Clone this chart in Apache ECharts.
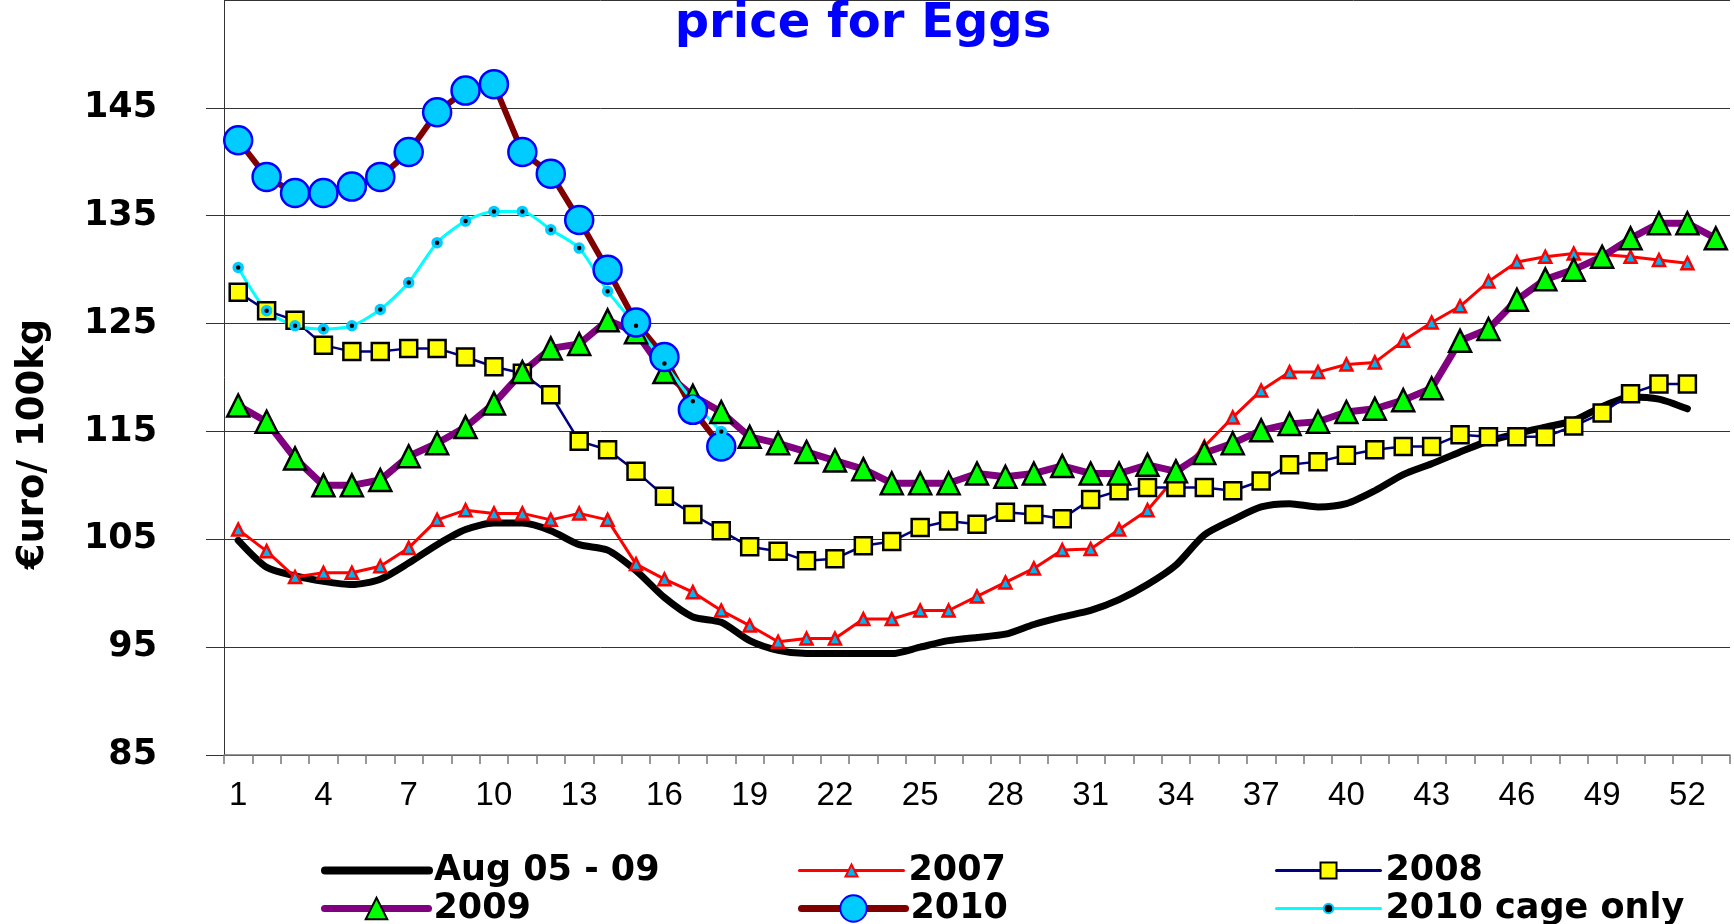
<!DOCTYPE html>
<html>
<head>
<meta charset="utf-8">
<title>price for Eggs</title>
<script src="https://cdn.jsdelivr.net/npm/echarts@6/dist/echarts.min.js"></script>
<style>
  html, body { margin: 0; padding: 0; background: #ffffff; }
  #main { width: 1734px; height: 924px; }
</style>
</head>
<body>
<div id="main"></div>
<script>
// weeks 1..53
var weeks = []
for (var i = 1; i <= 53; i++) weeks.push(String(i))

var yTicks = [85, 95, 105, 115, 125, 135, 145]

// average Aug 05 - 09
var avg0509 = [104.9, 102.4, 101.6, 101.1, 100.8, 101.3, 102.8, 104.5, 105.9, 106.5,
  106.5, 105.8, 104.5, 104.0, 102.1, 99.6, 97.8, 97.3, 95.6, 94.7,
  94.4, 94.4, 94.4, 94.4, 95.0, 95.6, 95.9, 96.2, 97.1, 97.8,
  98.4, 99.4, 100.8, 102.6, 105.4, 106.8, 108.0, 108.3, 108.0, 108.3,
  109.5, 111.0, 112.0, 113.1, 114.1, 114.8, 115.4, 116.0, 117.3, 118.2, 118.0, 117.1]

var y2007 = [105.9, 103.9, 101.5, 101.9, 101.9, 102.5, 104.2, 106.8, 107.7, 107.4,
  107.4, 106.8, 107.4, 106.8, 102.7, 101.3, 100.1, 98.4, 97.0, 95.5,
  95.8, 95.8, 97.6, 97.6, 98.4, 98.4, 99.7, 101.0, 102.3, 104.0,
  104.1, 105.9, 107.7, 110.8, 113.6, 116.3, 118.8, 120.5, 120.5, 121.2,
  121.4, 123.4, 125.1, 126.6, 128.9, 130.7, 131.2, 131.5, 131.4, 131.2, 130.9, 130.6]

var y2008 = [127.9, 126.2, 125.3, 123.0, 122.4, 122.4, 122.7, 122.7, 121.9, 121.0,
  120.4, 118.4, 114.1, 113.3, 111.3, 109.0, 107.3, 105.8, 104.3, 103.9,
  103.0, 103.2, 104.4, 104.8, 106.1, 106.7, 106.4, 107.5, 107.3, 106.9,
  108.7, 109.5, 109.8, 109.8, 109.8, 109.5, 110.4, 111.9, 112.2, 112.8,
  113.3, 113.6, 113.6, 114.7, 114.5, 114.5, 114.5, 115.5, 116.7, 118.5, 119.4, 119.4]

var y2009 = [117.4, 115.9, 112.5, 110.0, 110.0, 110.5, 112.7, 113.9, 115.4, 117.6,
  120.5, 122.7, 123.1, 125.3, 124.2, 120.5, 118.3, 116.8, 114.5, 113.9,
  113.1, 112.3, 111.5, 110.2, 110.2, 110.2, 111.1, 110.8, 111.1, 111.8,
  111.1, 111.1, 111.9, 111.3, 113.0, 113.9, 115.1, 115.7, 115.9, 116.8,
  117.1, 117.9, 119.0, 123.4, 124.5, 127.2, 129.1, 130.0, 131.2, 132.9, 134.3, 134.3, 132.9]

var y2010 = [142.0, 138.6, 137.1, 137.1, 137.7, 138.6, 140.9, 144.6, 146.6, 147.2,
  140.9, 138.9, 134.6, 130.0, 125.1, 121.9, 117.0, 113.6]

var y2010cage = [130.2, 126.2, 124.8, 124.5, 124.8, 126.3, 128.8, 132.5, 134.5, 135.4,
  135.4, 133.7, 132.0, 128.0, 124.8, 121.3, 117.8, 115.0]

var boldFont = 'DejaVu Sans'

// one legend per entry so the 3 columns line up like the original
function legendAt(name, left, top, itemHeight, lineW, extra) {
  var lg = {
    data: [name],
    left: left,
    top: top,
    padding: 0,
    itemWidth: 104,
    itemHeight: itemHeight,
    itemGap: 0,
    selectedMode: false,
    lineStyle: { width: lineW, cap: 'round' },
    textStyle: { fontFamily: boldFont, fontWeight: 'bold', fontSize: 35, color: '#000', lineHeight: 34 }
  }
  if (extra) Object.assign(lg, extra)
  return lg
}

var chart = echarts.init(document.getElementById('main'))
var option = {
  animation: false,
  backgroundColor: '#ffffff',
  title: {
    text: 'price for Eggs',
    left: 858,
    top: -4,
    textAlign: 'center',
    textStyle: { fontFamily: boldFont, fontWeight: 'bold', fontSize: 48, color: '#0000ff' }
  },
  grid: { left: 224, right: 4, top: -4, bottom: 169, containLabel: false },
  legend: [
    legendAt('Aug 05 - 09', 321, 853, 14, 8, { itemStyle: { opacity: 0 } }),
    legendAt('2007', 798, 853, 15, 3),
    legendAt('2008', 1275, 853, 20, 3),
    legendAt('2009', 321, 891, 27, 7),
    legendAt('2010', 798, 891, 33, 7),
    legendAt('2010 cage only', 1275, 891, 12, 3)
  ],
  graphic: [{
    type: 'text',
    x: 33,
    y: 444,
    rotation: Math.PI / 2,
    style: {
      text: '€uro/ 100kg',
      fontFamily: boldFont,
      fontWeight: 'bold',
      fontSize: 37,
      fill: '#000',
      align: 'center',
      verticalAlign: 'middle'
    }
  }],
  xAxis: {
    type: 'category',
    data: weeks,
    boundaryGap: true,
    axisLine: { lineStyle: { color: '#777', width: 1.5 } },
    axisTick: { show: true, interval: 0, length: 9, lineStyle: { color: '#777', width: 1.5 } },
    axisLabel: { interval: 2, margin: 24, fontFamily: 'Liberation Sans', fontSize: 33, color: '#000' },
    splitLine: { show: false }
  },
  yAxis: {
    type: 'value',
    min: yTicks[0],
    max: 155,
    interval: 10,
    axisLine: { show: true, lineStyle: { color: '#333', width: 1 } },
    axisTick: { show: true, length: 18, lineStyle: { color: '#333', width: 1 } },
    axisLabel: {
      margin: 67,
      showMaxLabel: false,
      fontFamily: boldFont,
      fontWeight: 'bold',
      fontSize: 35,
      color: '#000'
    },
    splitLine: { show: true, lineStyle: { color: '#333', width: 1 } }
  },
  series: [
    {
      name: 'Aug 05 - 09',
      type: 'line',
      data: avg0509,
      smooth: 0.25,
      symbol: 'none',
      lineStyle: { color: '#000', width: 7, cap: 'round', join: 'round' },
      itemStyle: { color: '#000' }
    },
    {
      name: '2007',
      type: 'line',
      data: y2007,
      symbol: 'triangle',
      symbolSize: 12,
      showAllSymbol: true,
      lineStyle: { color: '#ff0000', width: 3 },
      itemStyle: { color: '#00b4f0', borderColor: '#ff0000', borderWidth: 2.5 }
    },
    {
      name: '2008',
      type: 'line',
      data: y2008,
      symbol: 'rect',
      symbolSize: 17,
      showAllSymbol: true,
      lineStyle: { color: '#000080', width: 2.5 },
      itemStyle: { color: '#ffff00', borderColor: '#000', borderWidth: 2.5 }
    },
    {
      name: '2009',
      type: 'line',
      data: y2009,
      symbol: 'triangle',
      symbolSize: 22,
      showAllSymbol: true,
      lineStyle: { color: '#800080', width: 7 },
      itemStyle: { color: '#00ff00', borderColor: '#000', borderWidth: 2.5 }
    },
    {
      name: '2010',
      type: 'line',
      data: y2010,
      symbol: 'circle',
      symbolSize: 28,
      showAllSymbol: true,
      lineStyle: { color: '#800000', width: 6 },
      itemStyle: { color: '#00ccff', borderColor: '#0000ff', borderWidth: 2.5 }
    },
    {
      name: '2010 cage only',
      type: 'line',
      data: y2010cage,
      smooth: 0.25,
      symbol: 'circle',
      symbolSize: 8,
      showAllSymbol: true,
      lineStyle: { color: '#00ffff', width: 3 },
      itemStyle: { color: '#000', borderColor: '#00ccff', borderWidth: 3.5 }
    }
  ]
}
chart.setOption(option)
</script>
</body>
</html>
